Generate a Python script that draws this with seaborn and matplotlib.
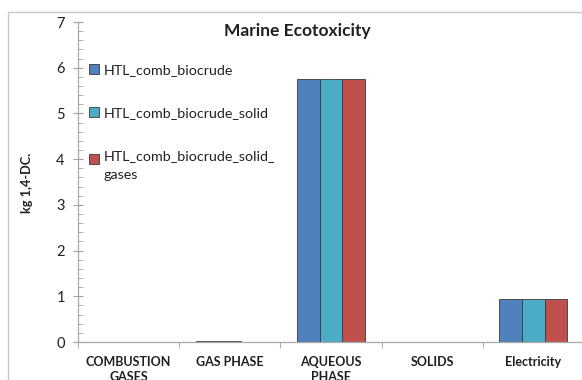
import matplotlib
matplotlib.use("Agg")
import matplotlib.pyplot as plt
from matplotlib.patches import Rectangle
from matplotlib.ticker import MultipleLocator, FixedLocator
import seaborn as sns
import pandas as pd

# Chart data
categories = ["COMBUSTION\nGASES", "GAS PHASE", "AQUEOUS\nPHASE", "SOLIDS", "Electricity"]
series_names = ["HTL_comb_biocrude", "HTL_comb_biocrude_solid", "HTL_comb_biocrude_solid_\ngases"]
biocrude = [0.0, 0.02, 5.75, 0.0, 0.95]
biocrude_solid = [0.0, 0.02, 5.75, 0.0, 0.95]
biocrude_solid_gases = [0.0, 0.0, 5.75, 0.0, 0.95]
palette = ["#4F81BD", "#4BACC6", "#C0504D"]

rows = []
for name, vals in zip(series_names, [biocrude, biocrude_solid, biocrude_solid_gases]):
    for cat, v in zip(categories, vals):
        rows.append({"category": cat, "series": name, "value": v})
df = pd.DataFrame(rows)

sns.set_theme(style="white")
plt.rcParams["font.family"] = ["Lato", "DejaVu Sans"]

fig = plt.figure(figsize=(5.82, 3.8), dpi=100)
ax = fig.add_axes([78 / 582, 38 / 380, (584 - 78) / 582, (342 - 22) / 380])

sns.barplot(data=df, x="category", y="value", hue="series", order=categories,
            hue_order=series_names, palette=palette, width=0.67, ax=ax,
            edgecolor="#3a3a3a", linewidth=0.6, saturation=1, legend=True)

ax.set_ylim(0, 7)
ax.set_xlim(-0.5, 4.5)
ax.yaxis.set_major_locator(MultipleLocator(1))
ax.yaxis.set_minor_locator(MultipleLocator(0.2))
ax.tick_params(axis="y", which="major", direction="inout", length=7, width=0.8,
               color="#a0a0a0", labelsize=10.5, labelcolor="#202020", pad=6, left=True)
ax.tick_params(axis="y", which="minor", direction="in", length=3.5, width=0.7,
               color="#b0b0b0", left=True)

# Category separators on the x axis
ax.xaxis.set_minor_locator(FixedLocator([-0.5, 0.5, 1.5, 2.5, 3.5, 4.5]))
ax.tick_params(axis="x", which="major", length=0, labelsize=9, pad=10)
ax.tick_params(axis="x", which="minor", direction="out", length=4, width=0.8,
               color="#b0b0b0", bottom=True)
for lbl in ax.get_xticklabels():
    lbl.set_fontweight("bold")
    lbl.set_color("#202020")
    lbl.set_linespacing(1.35)

for side in ["top", "right"]:
    ax.spines[side].set_visible(False)
for side in ["left", "bottom"]:
    ax.spines[side].set_color("#a8a8a8")
    ax.spines[side].set_linewidth(0.9)

ax.set_xlabel("")
ax.set_ylabel("")
fig.text(27 / 582, 1 - 183 / 380, "kg 1,4-DC.", rotation=90, ha="center", va="center",
         fontsize=9.2, fontweight="bold", color="#202020")
fig.text(297 / 582, 1 - 31 / 380, "Marine Ecotoxicity", ha="center", va="center",
         fontsize=12.5, fontweight="bold", color="#202020")

leg = ax.legend(loc="upper left", bbox_to_anchor=(0.022, 0.868), frameon=False,
                fontsize=10.3, handlelength=0.7, handleheight=0.7,
                handletextpad=0.3, labelspacing=2.15, borderaxespad=0, borderpad=0)
for t in leg.get_texts():
    t.set_color("#202020")
    t.set_linespacing(1.75)
# Line the wrapped entry's swatch up with its first text line
last = leg.legend_handles[-1]
last.set_y(last.get_y() + 5)

# Outer chart frame
fig.patches.append(Rectangle((8 / 582, -0.1), 1.1, 1.1 - 12 / 380,
                             transform=fig.transFigure, fill=False,
                             edgecolor="#c8c8c8", linewidth=1.0))

fig.savefig("out.png", dpi=100)
